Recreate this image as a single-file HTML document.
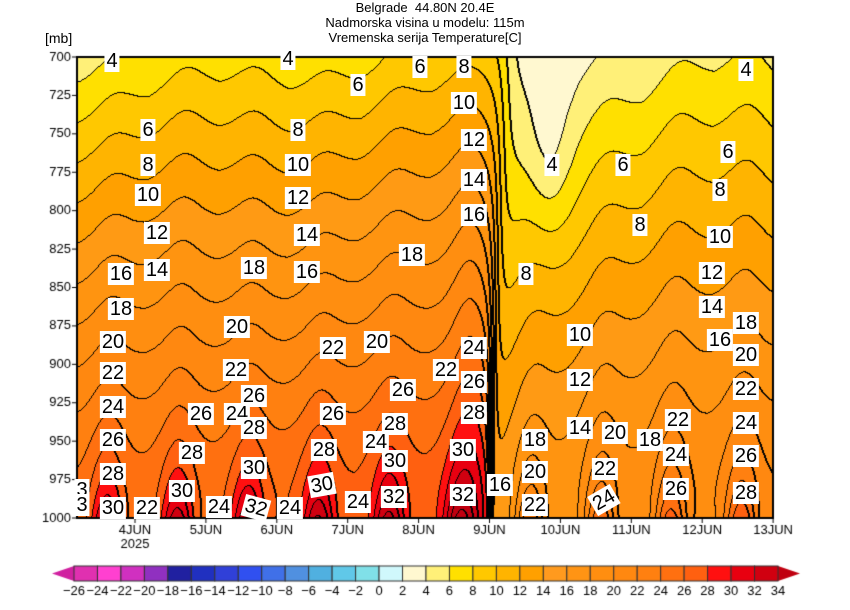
<!DOCTYPE html>
<html><head><meta charset="utf-8">
<style>
html,body{margin:0;padding:0;background:#fff;width:850px;height:610px;overflow:hidden;font-family:"Liberation Sans",sans-serif}
#c{position:absolute;left:0;top:0}
.t{position:absolute;font-size:13px;color:#000;white-space:nowrap}
.l{position:absolute;background:#fff;font-size:20px;line-height:20px;padding:1px 2px;color:#000;transform:translate(-50%,-50%);white-space:nowrap}
</style></head><body>
<canvas id="c" width="850" height="610"></canvas>
<div class="t" style="left:0;width:850px;text-align:center;top:0px">Belgrade&nbsp; 44.80N 20.4E</div>
<div class="t" style="left:0;width:850px;text-align:center;top:15px">Nadmorska visina u modelu: 115m</div>
<div class="t" style="left:0;width:850px;text-align:center;top:30px">Vremenska serija Temperature[C]</div>
<div class="t" style="left:45px;top:30px;font-size:14px">[mb]</div>
<div id="lab"></div>
<script>
const cv=document.getElementById('c'),ctx=cv.getContext('2d');
const X0=77,X1=773,Y0=57,Y1=518;
function field(X,Y){
 const t=(X-135)/70.5, s=(Y-Y0)/(Y1-Y0);
 let T=6+22*s+0.5*Math.min(t,5);
 const ph=0.6+0.12*(1-s);
 let f=t-ph; f=f-Math.round(f);
 const sw=0.16+0.08*(1-s);
 const w=Math.exp(-f*f/(2*sw*sw));
 const A=0.9+7.5*Math.exp(-(1-s)/0.1);
 T+=A*(w-0.4);
 T+=0.6*Math.sin(t*1.7+s*2)*(1-s);
 T+=3*Math.exp(-Math.pow((t-4.8)/0.25,2))*s;
 const tf=5.04+0.25*(1-s)*(1-s), wd=0.02+0.06*(1-s);
 const sg=1/(1+Math.exp(-(t-tf)/wd));
 const R=0.45+0.55*Math.exp(-Math.max(t-5.05,0)/2);
 T-=sg*((6+8*s)*R+3*Math.exp(-Math.pow((t-5.85)/0.32,2))*Math.exp(-Math.pow((s-0.2)/0.2,2)));
 return T;
}
const bc=['#d8f8fc','#fff8d0','#fff078','#ffe000','#ffc800','#ffb400','#ffa000','#ff9a14','#ff9410','#ff8e10','#ff8810','#ff8010','#ff7010','#ff6010','#ff1010','#e80010','#d00010','#c00010'];
function hex(h){return [parseInt(h.substr(1,2),16),parseInt(h.substr(3,2),16),parseInt(h.substr(5,2),16)];}
const bcr=bc.map(hex);
const W=X1-X0,H=Y1-Y0;
const band=new Int16Array(W*H);
for(let j=0;j<H;j++)for(let i=0;i<W;i++){band[j*W+i]=Math.floor(field(X0+i+0.5,Y0+j+0.5)/2);}
const img=ctx.createImageData(W,H);
for(let j=0;j<H;j++)for(let i=0;i<W;i++){
 const b=band[j*W+i];let k=Math.max(0,Math.min(17,b));
 let c=bcr[k];
 let edge=false;
 if(i<W-1&&band[j*W+i+1]!=b)edge=true;
 if(j<H-1&&band[(j+1)*W+i]!=b)edge=true;
 if(i>0&&band[j*W+i-1]>b)edge=true;
 if(j>0&&band[(j-1)*W+i]>b)edge=true;
 if(edge)c=[0,0,0];
 const p=(j*W+i)*4;img.data[p]=c[0];img.data[p+1]=c[1];img.data[p+2]=c[2];img.data[p+3]=255;
}
ctx.putImageData(img,X0,Y0);
ctx.strokeStyle='#000';ctx.lineWidth=2;ctx.strokeRect(X0,Y0,W,H);
ctx.lineWidth=1;ctx.fillStyle='#000';ctx.font='13px "Liberation Sans",sans-serif';
ctx.textAlign='right';ctx.textBaseline='middle';
for(let k=0;k<=12;k++){const p=700+25*k,y=Y0+k*H/12;ctx.beginPath();ctx.moveTo(X0-5,y);ctx.lineTo(X0,y);ctx.stroke();ctx.fillText(p,X0-6,y);}
ctx.textAlign='center';ctx.textBaseline='top';
const days=['4JUN','5JUN','6JUN','7JUN','8JUN','9JUN','10JUN','11JUN','12JUN','13JUN'];
for(let d=0;d<10;d++){const x=135+d*70.9;ctx.beginPath();ctx.moveTo(x,Y1);ctx.lineTo(x,Y1+5);ctx.stroke();ctx.fillText(days[d],x,Y1+6);}
ctx.fillText('2025',135,Y1+20);
const cb=['#e030b0','#ff40d0','#d030c0','#9030c0','#2020a0','#2030c0','#3040d8','#3050f0','#4070e8','#5090e0','#50b0e0','#60c8e8','#80e0e8','#d0f8fc','#fff8d0','#fff078','#ffe000','#ffc800','#ffb400','#ffa000','#ff9a1e','#ff9414','#ff8e10','#ff8810','#ff8010','#ff7010','#ff6010','#ff1010','#e80010','#d00010'];
const bx0=74,bw=(778-74)/30,by=566,bh=15;
ctx.fillStyle='#d020a0';ctx.beginPath();ctx.moveTo(bx0,by);ctx.lineTo(52,by+bh/2);ctx.lineTo(bx0,by+bh);ctx.fill();
ctx.fillStyle='#c00010';ctx.beginPath();ctx.moveTo(778,by);ctx.lineTo(800,by+bh/2);ctx.lineTo(778,by+bh);ctx.fill();
for(let k=0;k<30;k++){ctx.fillStyle=cb[k];ctx.fillRect(bx0+k*bw,by,bw,bh);ctx.strokeStyle='#333';ctx.strokeRect(bx0+k*bw,by,bw,bh);}
ctx.fillStyle='#000';ctx.textBaseline='top';
for(let k=0;k<=30;k++){const v=-26+2*k;ctx.fillText(v<0?'\u2212'+(-v):String(v),bx0+k*bw,by+bh+4);}
const L=[[112,61,4],[288,59,4],[358,85,6],[420,67,6],[464,67,8],[746,70,4],[464,103,10],[148,130,6],[298,130,8],[474,140,12],[728,152,6],[148,165,8],[298,165,10],[552,165,4],[623,165,6],[474,180,14],[720,190,8],[148,195,10],[298,198,12],[474,215,16],[640,225,8],[157,233,12],[307,235,14],[720,237,10],[412,255,18],[121,274,16],[157,270,14],[254,268,18],[307,272,16],[526,274,8],[712,273,12],[121,309,18],[712,307,14],[237,327,20],[746,323,18],[580,335,10],[113,342,20],[333,348,22],[377,342,20],[720,340,16],[474,348,24],[746,355,20],[113,373,22],[236,370,22],[446,370,22],[474,382,26],[580,380,12],[254,396,26],[403,390,26],[746,389,22],[113,407,24],[201,414,26],[237,414,24],[333,414,26],[254,428,28],[395,424,28],[474,413,28],[678,420,22],[746,423,24],[113,440,26],[580,428,14],[615,433,20],[650,440,18],[376,442,24],[535,440,18],[192,453,28],[324,450,28],[463,450,30],[676,455,24],[254,468,30],[395,461,30],[535,472,20],[605,469,22],[746,456,26],[113,474,28],[322,485,30,-10],[182,491,30],[394,497,32],[463,495,32],[500,485,16],[676,489,26],[746,493,28],[535,505,22],[604,500,24,-30],[113,508,30],[147,508,22],[219,507,24],[256,508,32,15],[290,508,24],[358,502,24],[82,490,3],[82,505,3]];
let h='';for(const a of L){h+='<div class="l" style="left:'+a[0]+'px;top:'+a[1]+'px'+(a[3]?';transform:translate(-50%,-50%) rotate('+a[3]+'deg)':'')+'">'+a[2]+'</div>';}
document.getElementById('lab').innerHTML=h;
</script>
</body></html>
